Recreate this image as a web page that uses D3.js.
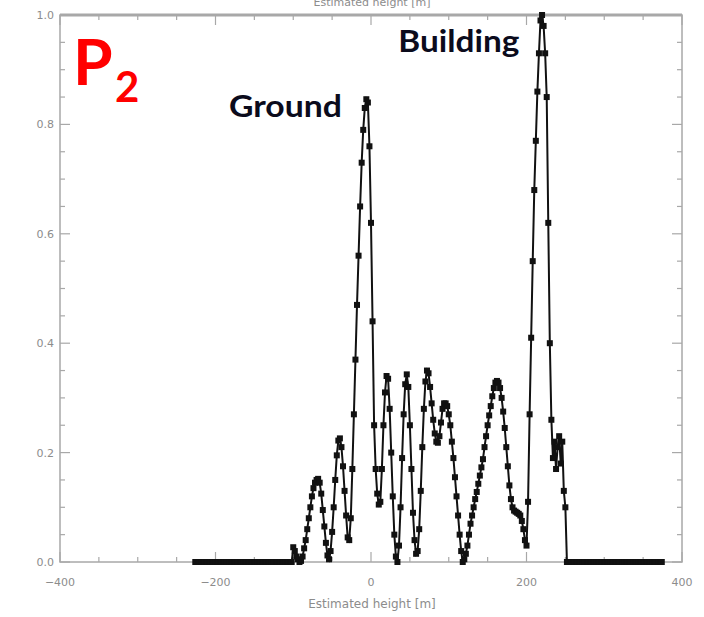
<!DOCTYPE html>
<html>
<head>
<meta charset="utf-8">
<script src="https://cdn.jsdelivr.net/npm/d3@7"></script>
<style>
  html, body { margin: 0; padding: 0; background: #fff; }
  svg { display: block; }
</style>
</head>
<body>
<svg id="chart" width="704" height="617"></svg>
<script>
// Estimated height grid (m), 2 m per sample
const heightStart = -226;
const heightStep = 2;

// flat floor before the profile (-226 .. -102)
const leftFloor = [
  0, 0, 0, 0, 0, 0, 0, 0, 0, 0, 0, 0, 0, 0, 0, 0, 0, 0, 0, 0, 0,
  0, 0, 0, 0, 0, 0, 0, 0, 0, 0, 0, 0, 0, 0, 0, 0, 0, 0, 0, 0, 0,
  0, 0, 0, 0, 0, 0, 0, 0, 0, 0, 0, 0, 0, 0, 0, 0, 0, 0, 0, 0, 0
];

// profile from -100 to 252 m
const profile = [
  0.027, 0.02, 0.01, 0.005, 0, 0.002, 0.01, 0.025, 0.04, 0.06,
  0.08, 0.1, 0.12, 0.135, 0.145, 0.15, 0.152, 0.145, 0.125, 0.095,
  0.065, 0.035, 0.012, 0.005, 0.02, 0.055, 0.1, 0.15, 0.195, 0.222,
  0.226, 0.21, 0.175, 0.13, 0.085, 0.045, 0.04, 0.08, 0.17, 0.27,
  0.37, 0.47, 0.56, 0.65, 0.73, 0.79, 0.83, 0.846, 0.84, 0.76,
  0.62, 0.44, 0.25, 0.17, 0.125, 0.105, 0.11, 0.17, 0.25, 0.31,
  0.34, 0.335, 0.28, 0.2, 0.12, 0.05, 0.01, 0, 0.03, 0.1,
  0.19, 0.27, 0.325, 0.343, 0.32, 0.25, 0.17, 0.09, 0.04, 0.015,
  0.02, 0.06, 0.13, 0.21, 0.28, 0.33, 0.35, 0.345, 0.32, 0.29,
  0.26, 0.235, 0.22, 0.218, 0.23, 0.255, 0.28, 0.29, 0.29, 0.285,
  0.27, 0.25, 0.22, 0.19, 0.155, 0.12, 0.085, 0.05, 0.02, 0,
  0.005, 0.015, 0.03, 0.05, 0.07, 0.085, 0.1, 0.115, 0.128, 0.143,
  0.158, 0.173, 0.188, 0.21, 0.23, 0.25, 0.268, 0.285, 0.303, 0.318,
  0.328, 0.331, 0.328, 0.318, 0.3, 0.275, 0.245, 0.21, 0.175, 0.14,
  0.115, 0.1, 0.094, 0.092, 0.09, 0.088, 0.085, 0.075, 0.06, 0.04,
  0.03, 0.11, 0.27, 0.41, 0.55, 0.68, 0.77, 0.86, 0.93, 0.99,
  1.0, 0.98, 0.93, 0.85, 0.62, 0.4, 0.26, 0.19, 0.22, 0.17,
  0.21, 0.23, 0.18, 0.22, 0.13, 0.1, 0
];

// flat floor after the profile (254 .. 376)
const rightFloor = [
  0, 0, 0, 0, 0, 0, 0, 0, 0, 0, 0, 0, 0, 0, 0, 0, 0, 0, 0, 0, 0,
  0, 0, 0, 0, 0, 0, 0, 0, 0, 0, 0, 0, 0, 0, 0, 0, 0, 0, 0, 0,
  0, 0, 0, 0, 0, 0, 0, 0, 0, 0, 0, 0, 0, 0, 0, 0, 0, 0, 0, 0
];

const xTicks = [-400, -200, 0, 200, 400];
const yTicks = [0.0, 0.2, 0.4, 0.6, 0.8, 1.0];
const xTitle = 'Estimated height [m]';
const labels = [
  { text: 'Ground', h: -110, v: 0.814, len: 113 },
  { text: 'Building', h: 113, v: 0.932, len: 121 }
];

const values = leftFloor.concat(profile, rightFloor);
const points = values.map((v, i) => ({ h: heightStart + i * heightStep, v: v }));

const svg = d3.select('#chart');
const plot = { left: 60, right: 682, top: 15, bottom: 562 };
const frameColor = '#a8a8a8';
const textColor = '#8c8c8c';

const x = d3.scaleLinear().domain([-400, 400]).range([plot.left, plot.right]);
const y = d3.scaleLinear().domain([0, 1]).range([plot.bottom, plot.top]);

const minorX = d3.range(-400, 401, 50);
const minorY = d3.range(0, 1.001, 0.05);

// inward ticks on all four sides
const axes = svg.append('g').attr('stroke', frameColor).attr('stroke-width', 1.2);
minorX.forEach((t) => {
  const len = xTicks.includes(t) ? 10 : 5;
  axes.append('line').attr('x1', x(t)).attr('x2', x(t)).attr('y1', plot.bottom).attr('y2', plot.bottom - len);
  axes.append('line').attr('x1', x(t)).attr('x2', x(t)).attr('y1', plot.top).attr('y2', plot.top + len);
});
minorY.forEach((t) => {
  const major = yTicks.some((m) => Math.abs(m - t) < 1e-6);
  const len = major ? 10 : 5;
  axes.append('line').attr('y1', y(t)).attr('y2', y(t)).attr('x1', plot.left).attr('x2', plot.left + len);
  axes.append('line').attr('y1', y(t)).attr('y2', y(t)).attr('x1', plot.right).attr('x2', plot.right - len);
});

// frame
svg.append('rect')
  .attr('x', plot.left)
  .attr('y', plot.top)
  .attr('width', plot.right - plot.left)
  .attr('height', plot.bottom - plot.top)
  .attr('fill', 'none')
  .attr('stroke', frameColor)
  .attr('stroke-width', 1.5);
svg.append('line')
  .attr('x1', plot.left).attr('x2', plot.right)
  .attr('y1', plot.top).attr('y2', plot.top)
  .attr('stroke', frameColor)
  .attr('stroke-width', 3);

// tick labels
svg.append('g')
  .selectAll('text')
  .data(xTicks)
  .join('text')
  .attr('x', (d) => x(d))
  .attr('y', 586)
  .attr('text-anchor', 'middle')
  .attr('font-family', 'DejaVu Sans, sans-serif')
  .attr('font-size', 11)
  .attr('fill', textColor)
  .text(d3.format('d'));

svg.append('g')
  .selectAll('text')
  .data(yTicks)
  .join('text')
  .attr('x', 54)
  .attr('y', (d) => y(d) + 4)
  .attr('text-anchor', 'end')
  .attr('font-family', 'DejaVu Sans, sans-serif')
  .attr('font-size', 11)
  .attr('fill', textColor)
  .text(d3.format('.1f'));

// axis titles (the top copy sits half outside the picture, as in the source)
svg.append('text')
  .attr('x', 372)
  .attr('y', 608)
  .attr('text-anchor', 'middle')
  .attr('font-family', 'DejaVu Sans, sans-serif')
  .attr('font-size', 12)
  .attr('fill', textColor)
  .text(xTitle);
svg.append('text')
  .attr('x', 372)
  .attr('y', 6)
  .attr('text-anchor', 'middle')
  .attr('font-family', 'DejaVu Sans, sans-serif')
  .attr('font-size', 11)
  .attr('fill', textColor)
  .text(xTitle);

// curve with square markers
const line = d3.line().x((d) => x(d.h)).y((d) => y(d.v));
svg.append('path')
  .datum(points)
  .attr('d', line)
  .attr('fill', 'none')
  .attr('stroke', '#111')
  .attr('stroke-width', 2);

svg.append('g')
  .selectAll('rect')
  .data(points)
  .join('rect')
  .attr('x', (d) => x(d.h) - 3)
  .attr('y', (d) => y(d.v) - 3)
  .attr('width', 6)
  .attr('height', 6)
  .attr('fill', '#111');

// annotations
svg.selectAll('text.label')
  .data(labels)
  .join('text')
  .attr('class', 'label')
  .attr('x', (d) => x(d.h) - d.len / 2)
  .attr('y', (d) => y(d.v))
  .attr('textLength', (d) => d.len)
  .attr('lengthAdjust', 'spacingAndGlyphs')
  .attr('font-family', 'Lato, sans-serif')
  .attr('font-weight', 'bold')
  .attr('font-size', 31)
  .attr('fill', '#0b0b1c')
  .text((d) => d.text);

const pLabel = svg.append('text')
  .attr('x', 73)
  .attr('y', 85)
  .attr('font-family', 'Lato, sans-serif')
  .attr('font-weight', 'bold')
  .attr('fill', '#ff0000');
pLabel.append('tspan')
  .attr('font-size', 64)
  .text('P');
pLabel.append('tspan')
  .attr('x', 115)
  .attr('y', 102)
  .attr('font-size', 42)
  .text('2');
</script>
</body>
</html>
